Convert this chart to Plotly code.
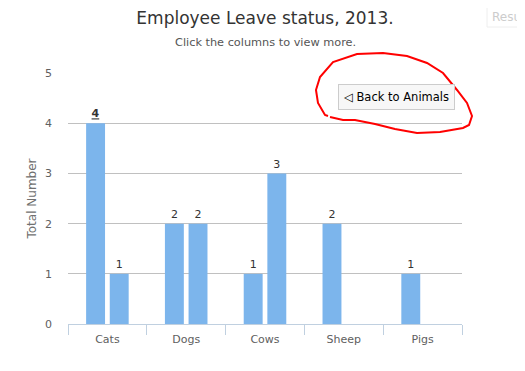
import plotly.graph_objects as go

categories = ["Cats", "Dogs", "Cows", "Sheep", "Pigs"]
series_a = [4, 2, 1, 2, 1]
series_b = [1, 2, 3, None, None]
y_ticks = [0, 1, 2, 3, 4, 5]

OFF = 8  # page body margin
W, H = 525 - OFF, 371 - OFF
# plot area in window pixels
L, R, T, B = 68, 462, 73, 324

def px(x):
    return (x - L) / (R - L)

def py(y):
    return (B - y) / (B - T)

def labels(vals, emph=None):
    out = []
    for i, v in enumerate(vals):
        if v is None:
            out.append("")
        elif i == emph:
            out.append("<b><u>%d</u></b>" % v)
        else:
            out.append(str(v))
    return out

bar_color = "#7cb5ec"
font = "DejaVu Sans, Verdana, Arial, sans-serif"

fig = go.Figure()
fig.add_trace(go.Bar(x=categories, y=series_a, marker=dict(color=bar_color, line=dict(width=0)),
                     text=labels(series_a, emph=0), textposition="outside", cliponaxis=False,
                     textfont=dict(size=11, color="#333333", family=font), hoverinfo="x+y"))
fig.add_trace(go.Bar(x=categories, y=series_b, marker=dict(color=bar_color, line=dict(width=0)),
                     text=labels(series_b), textposition="outside", cliponaxis=False,
                     textfont=dict(size=11, color="#333333", family=font), hoverinfo="x+y"))

# hand-drawn red circle around the button
pts = [(328, 116), (325, 115), (318, 103), (316, 90), (320, 77), (333, 62), (357, 54), (383, 53),
       (407, 56), (427, 63), (443, 73), (457, 90), (467, 103), (472, 116), (469, 125), (463, 128),
       (440, 132), (417, 133), (395, 129), (375, 124), (355, 120), (343, 120), (330, 117)]
path = "M " + " L ".join("%.4f,%.4f" % (px(x), py(y)) for x, y in pts)

shapes = [
    dict(type="path", xref="paper", yref="paper", path=path, line=dict(color="#ff0000", width=2)),
    dict(type="rect", xref="paper", yref="paper", x0=px(487), x1=px(545), y0=py(6), y1=py(27),
         line=dict(color="#eeeeee", width=1), fillcolor="rgba(0,0,0,0)"),
]

fig.update_layout(
    width=W, height=H,
    margin=dict(l=L - OFF, r=W - (R - OFF), t=T - OFF, b=H - (B - OFF), pad=0),
    paper_bgcolor="white", plot_bgcolor="white",
    showlegend=False,
    barmode="group", bargap=0.4, bargroupgap=0.2,
    font=dict(family=font, color="#606060", size=11),
    title=dict(text="Employee Leave status, 2013.", x=(265 - OFF) / W, xanchor="center",
               y=1 - (18 - OFF) / H, yanchor="middle", yref="container",
               font=dict(size=17, color="#333333", family=font)),
    annotations=[
        dict(text="Click the columns to view more.", xref="paper", yref="paper",
             x=px(265), y=py(42), xanchor="center", yanchor="middle",
             showarrow=False, font=dict(size=11.3, color="#555555", family=font)),
        dict(text="Resu", xref="paper", yref="paper", x=px(523), y=py(17),
             xanchor="right", yanchor="middle", showarrow=False,
             font=dict(size=12, color="#cccccc", family=font)),
        dict(text="◁ Back to Animals", xref="paper", yref="paper", x=px(338), y=py(84),
             xanchor="left", yanchor="top", showarrow=False, width=115, height=24,
             align="center", valign="middle", borderpad=0, borderwidth=1,
             bordercolor="#cccccc", bgcolor="#f7f7f7",
             font=dict(size=11.5, color="#000000", family=font)),
    ],
    shapes=shapes,
    xaxis=dict(showline=True, linecolor="#C0D0E0", linewidth=1, ticks="outside",
               tickson="boundaries", ticklen=10, tickcolor="#C0D0E0",
               ticklabelstandoff=5,
               showgrid=False, tickfont=dict(size=11, color="#606060", family=font)),
    yaxis=dict(range=[0, 5.004], tickvals=y_ticks, showgrid=True, gridcolor="#C0C0C0",
               gridwidth=1, zeroline=False, showline=False, ticks="",
               ticklabelstandoff=15,
               tickfont=dict(size=11, color="#606060", family=font),
               title=dict(text="Total Number", standoff=5,
                          font=dict(size=12, color="#707070", family=font))),
)

fig.write_html("out.html")
